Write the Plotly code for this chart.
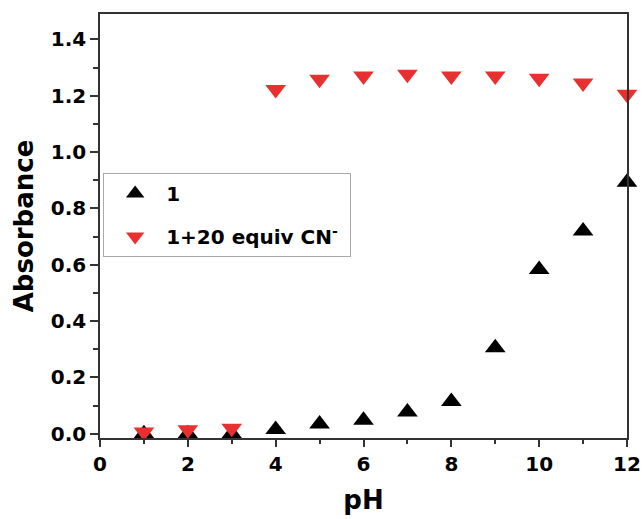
import plotly.graph_objects as go

ph = [1, 2, 3, 4, 5, 6, 7, 8, 9, 10, 11, 12]
abs_1 = [0.0, 0.0, 0.0, 0.015, 0.035, 0.048, 0.077, 0.115, 0.305, 0.583, 0.72, 0.893]
abs_1_cn = [0.006, 0.014, 0.02, 1.222, 1.258, 1.27, 1.276, 1.27, 1.27, 1.262, 1.245, 1.205]
x_ticks = [0, 2, 4, 6, 8, 10, 12]
y_ticks = [0, 0.2, 0.4, 0.6, 0.8, 1.0, 1.2, 1.4]

fig = go.Figure()
fig.add_trace(go.Scatter(x=ph, y=abs_1, mode="markers", name="<b>1</b>", legendgroup="a",
                         marker=dict(symbol="triangle-up", size=18, color="black"),
                         cliponaxis=False))
fig.add_trace(go.Scatter(x=ph, y=abs_1_cn, mode="markers",
                         name="<b>1+20 equiv CN<sup>-</sup></b>\u00a0",
                         legendgroup="b",
                         marker=dict(symbol="triangle-down", size=18, color="#e83030"),
                         cliponaxis=False))

font_b = "DejaVu Sans, sans-serif"
fig.update_layout(
    width=643, height=519,
    margin=dict(l=100, r=16, t=14, b=81),
    plot_bgcolor="white", paper_bgcolor="white",
    showlegend=True,
    legend=dict(x=0.006, y=0.625, xanchor="left", yanchor="top",
                bordercolor="#aaaaaa", borderwidth=1, bgcolor="white",
                font=dict(family=font_b, size=20, color="black"),
                itemwidth=52, tracegroupgap=14),
    font=dict(family=font_b, color="black"),
)
fig.update_xaxes(range=[0, 12], tickmode="array", tickvals=x_ticks,
                 ticktext=[f"<b>{v}</b>" for v in x_ticks],
                 ticks="outside", ticklen=7, tickwidth=1.5, tickcolor="#333",
                 minor=dict(dtick=1, ticks="outside", ticklen=4, tickcolor="#333"),
                 showline=True, linecolor="#333", linewidth=1.5, mirror=True,
                 showgrid=False, zeroline=False, automargin=False,
                 tickfont=dict(size=20, family=font_b),
                 title=dict(text="<b>pH</b>", font=dict(size=26), standoff=16))
fig.update_yaxes(range=[-0.015, 1.49], tickmode="array",
                 tickvals=y_ticks,
                 ticktext=[f"<b>{v:.1f}</b>" for v in y_ticks],
                 ticks="outside", ticklen=8, tickwidth=1.5, tickcolor="#333",
                 minor=dict(dtick=0.1, tick0=0, ticks="outside", ticklen=5, tickcolor="#333"),
                 showline=True, linecolor="#333", linewidth=1.5, mirror=True,
                 showgrid=False, zeroline=False, automargin=False,
                 tickfont=dict(size=20, family=font_b),
                 title=dict(text="<b>Absorbance</b>", font=dict(size=26), standoff=10))

fig.write_html("out.html")
